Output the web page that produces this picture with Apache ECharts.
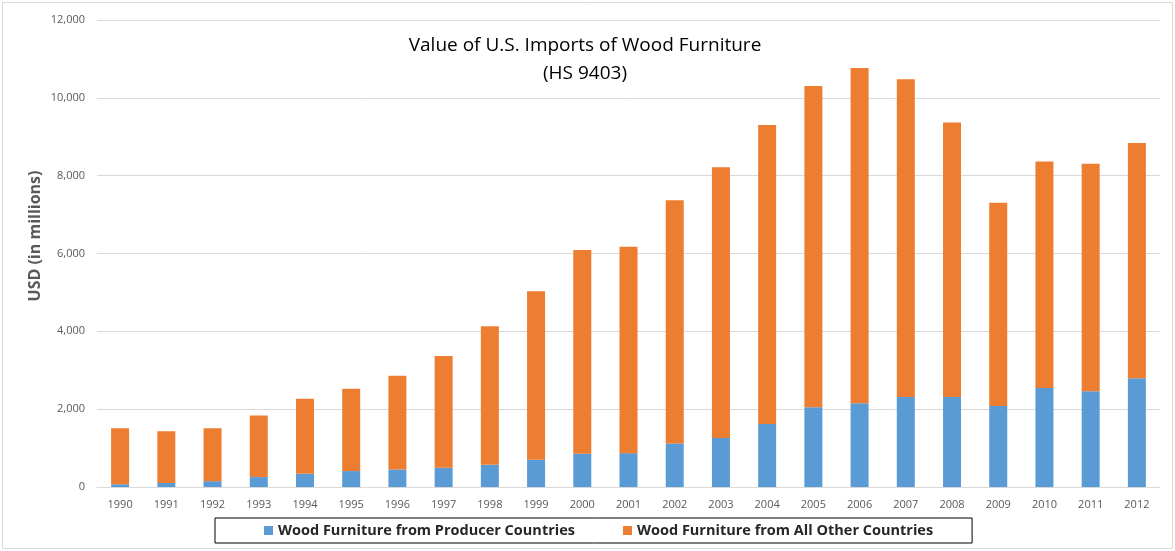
<!DOCTYPE html>
<html>
<head>
<meta charset="utf-8">
<script src="https://cdn.jsdelivr.net/npm/echarts@6/dist/echarts.min.js"></script>
<style>
  html, body { margin: 0; padding: 0; background: #fff; }
  #chart { width: 1175px; height: 551px; }
</style>
</head>
<body>
<div id="chart"></div>
<script>
// years on the x axis
const years = ['1990', '1991', '1992', '1993', '1994', '1995', '1996', '1997', '1998', '1999', '2000',
  '2001', '2002', '2003', '2004', '2005', '2006', '2007', '2008', '2009', '2010', '2011', '2012']
// producer countries (blue, bottom of stack)
const producer = [70, 105, 150, 255, 340, 410, 450, 495, 570, 700, 855,
  870, 1120, 1260, 1620, 2050, 2155, 2310, 2310, 2080, 2545, 2460, 2795]
// bar totals
const totals = [1510, 1430, 1510, 1835, 2265, 2525, 2860, 3365, 4130, 5030, 6088,
  6172, 7370, 8218, 9305, 10305, 10768, 10478, 9365, 7302, 8362, 8303, 8842]
// all other countries (orange, top of stack)
const others = totals.map((t, i) => t - producer[i])

const chart = echarts.init(document.getElementById('chart'))
chart.setOption({
  animation: false,
  textStyle: { fontFamily: 'Open Sans' },
  title: {
    text: 'Value of U.S. Imports of Wood Furniture\n(HS 9403)',
    left: 580,
    top: 27,
    textAlign: 'center',
    textStyle: { fontSize: 19, fontWeight: 'normal', color: '#000', lineHeight: 28, align: 'center' }
  },
  graphic: [
    {
      type: 'rect',
      shape: { x: 2.5, y: 2.5, width: 1170, height: 546 },
      style: { fill: 'none', stroke: '#d9d9d9', lineWidth: 1 },
      silent: true
    },
    {
      // y axis title, sits a bit above the plot middle like the original
      type: 'text',
      x: 35,
      y: 236,
      rotation: Math.PI / 2,
      style: {
        text: 'USD (in millions)',
        font: 'bold 16px "Open Sans"',
        fill: '#595959',
        align: 'center',
        verticalAlign: 'middle'
      }
    }
  ],
  legend: {
    top: 518,
    left: 215,
    itemWidth: 9,
    itemHeight: 9,
    itemGap: 48,
    icon: 'rect',
    padding: [5, 39, 5, 49],
    borderColor: '#000',
    borderWidth: 1,
    borderRadius: 0,
    textStyle: { fontSize: 14.5, fontWeight: 'bold', color: '#262626', padding: [0, 0, 0, 0] },
    data: ['Wood Furniture from Producer Countries', 'Wood Furniture from All Other Countries']
  },
  grid: { left: 97, right: 15, top: 20, bottom: 64 },
  xAxis: {
    type: 'category',
    data: years,
    axisTick: { show: false },
    axisLine: { lineStyle: { color: '#d9d9d9' } },
    axisLabel: { color: '#595959', fontSize: 11, margin: 12 }
  },
  yAxis: {
    type: 'value',
    min: 0,
    max: 12000,
    interval: 2000,
    splitLine: { lineStyle: { color: '#d9d9d9' } },
    axisLabel: {
      color: '#595959', fontSize: 11, margin: 12,
      formatter: v => v.toLocaleString('en-US')
    }
  },
  series: [
    {
      name: 'Wood Furniture from Producer Countries',
      type: 'bar',
      stack: 'total',
      barWidth: 18,
      itemStyle: { color: '#5b9bd5' },
      data: producer
    },
    {
      name: 'Wood Furniture from All Other Countries',
      type: 'bar',
      stack: 'total',
      barWidth: 18,
      itemStyle: { color: '#ed7d31' },
      data: others
    }
  ]
})
</script>
</body>
</html>
